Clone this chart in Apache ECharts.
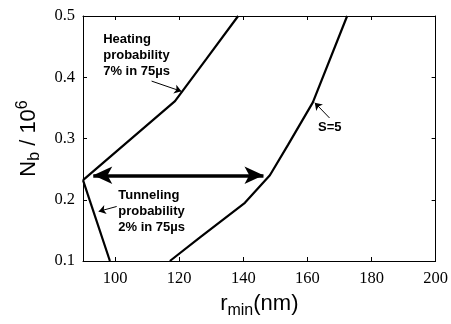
<!DOCTYPE html>
<html>
<head>
<meta charset="utf-8">
<script src="https://cdn.jsdelivr.net/npm/echarts@6/dist/echarts.min.js"></script>
<style>
  html, body { margin: 0; padding: 0; background: #fff; }
  #chart { width: 451px; height: 324px; }
</style>
</head>
<body>
<div id="chart"></div>
<script>
// Boundary curves in the (r_min, N_b) plane
const heatR = [90, 118.7, 128.5, 138.4];
const heatN = [0.232, 0.361, 0.430, 0.5];

const tunnelR = [90, 98.4];
const tunnelN = [0.232, 0.1];

const s5R = [117.1, 126.4, 140.5, 148.3, 154, 161.7, 172.4];
const s5N = [0.1, 0.138, 0.195, 0.24, 0.29, 0.359, 0.5];

// Operating window (double arrow) at constant N_b
const windowR = [93.2, 146.3];
const windowN = 0.24;

// Axis ticks
const xTicks = [100, 120, 140, 160, 180, 200];
const yTicks = [0.1, 0.2, 0.3, 0.4, 0.5];

// Annotation arrows: [tailR, tailN, headR, headN]
const heatArrow = [111.4, 0.3937, 120.7, 0.377];
const tunnelArrow = [100.5, 0.189, 94.9, 0.181];
const s5Arrow = [166.9, 0.3335, 162.3, 0.3585];

// Annotation texts and their anchors (top-left, data coords)
const heatText = ['Heating', 'probability', '7% in 75\u00b5s'];
const heatTextAt = [96.3, 0.475];
const tunnelText = ['Tunneling', 'probability', '2% in 75\u00b5s'];
const tunnelTextAt = [101.0, 0.2205];
const s5Text = ['S=5'];
const s5TextAt = [163.3, 0.331];

const pairs = (xs, ys) => xs.map((x, i) => [x, ys[i]]);

const chart = echarts.init(document.getElementById('chart'));

const black = '#000';
const tickFont = { fontFamily: 'Liberation Serif', fontSize: 16.5, color: black };

function arrowLine(a, size) {
  return [
    { coord: [a[0], a[1]], symbol: 'none' },
    { coord: [a[2], a[3]], symbol: 'arrow', symbolSize: size }
  ];
}

const option = {
  animation: false,
  grid: { left: 83, right: 15, top: 16, bottom: 51, show: false },
  xAxis: [
    {
      type: 'value', min: 90, max: 200, position: 'bottom',
      name: 'r{sub|min}(nm)', nameLocation: 'middle', nameGap: 28,
      nameTextStyle: {
        fontFamily: 'Liberation Sans', fontSize: 22, color: black,
        rich: { sub: { fontFamily: 'Liberation Sans', fontSize: 16, color: black, padding: [14, 0, 0, 0] } }
      },
      axisLine: { show: true, lineStyle: { color: black, width: 1 } },
      axisTick: { show: true, inside: true, length: 4, customValues: xTicks, lineStyle: { color: black } },
      axisLabel: { show: true, customValues: xTicks, margin: 9, ...tickFont },
      splitLine: { show: false }
    },
    {
      type: 'value', min: 90, max: 200, position: 'top',
      axisLine: { show: true, lineStyle: { color: black, width: 1 } },
      axisTick: { show: true, inside: true, length: 4, customValues: xTicks, lineStyle: { color: black } },
      axisLabel: { show: false },
      splitLine: { show: false }
    }
  ],
  yAxis: [
    {
      type: 'value', min: 0.1, max: 0.5, interval: 0.1, position: 'left',
      name: 'N{sub|b} / 10{sup|6}', nameLocation: 'middle', nameGap: 40, nameRotate: 90,
      nameTextStyle: {
        fontFamily: 'Liberation Sans', fontSize: 22, color: black,
        rich: {
          sub: { fontFamily: 'Liberation Sans', fontSize: 16, color: black, padding: [12, 0, 0, 0] },
          sup: { fontFamily: 'Liberation Sans', fontSize: 16, color: black, padding: [0, 0, 12, 0] }
        }
      },
      axisLine: { show: true, lineStyle: { color: black, width: 1 } },
      axisTick: { show: true, inside: true, length: 4, customValues: yTicks, lineStyle: { color: black } },
      axisLabel: { show: true, margin: 8, customValues: yTicks, formatter: v => v.toFixed(1), ...tickFont },
      splitLine: { show: false }
    },
    {
      type: 'value', min: 0.1, max: 0.5, interval: 0.1, position: 'right',
      axisLine: { show: true, lineStyle: { color: black, width: 1 } },
      axisTick: { show: true, inside: true, length: 4, customValues: yTicks, lineStyle: { color: black } },
      axisLabel: { show: false },
      splitLine: { show: false }
    }
  ],
  series: [
    {
      name: 'Heating', type: 'line', data: pairs(heatR, heatN),
      showSymbol: false, lineStyle: { color: black, width: 2.2 }, silent: true
    },
    {
      name: 'Tunneling', type: 'line', data: pairs(tunnelR, tunnelN),
      showSymbol: false, lineStyle: { color: black, width: 2.2 }, silent: true,
      markLine: {
        silent: true, animation: false,
        label: { show: false },
        lineStyle: { color: black, width: 1, type: 'solid' },
        data: [arrowLine(heatArrow, 7), arrowLine(tunnelArrow, 7), arrowLine(s5Arrow, 7)]
      }
    },
    {
      name: 'S=5', type: 'line', data: pairs(s5R, s5N),
      showSymbol: false, lineStyle: { color: black, width: 2.2 }, silent: true,
      markLine: {
        silent: true, animation: false,
        label: { show: false },
        lineStyle: { color: black, width: 3.5, type: 'solid' },
        data: [[
          { coord: [windowR[0], windowN], symbol: 'arrow', symbolSize: [13, 19] },
          { coord: [windowR[1], windowN], symbol: 'arrow', symbolSize: [13, 19] }
        ]]
      }
    }
  ]
};

chart.setOption(option);

// Place annotation texts through the chart's own scales
function textAt(lines, at) {
  const p = chart.convertToPixel({ xAxisIndex: 0, yAxisIndex: 0 }, at);
  return {
    type: 'text', x: p[0], y: p[1], silent: true,
    style: {
      text: lines.join('\n'),
      fontFamily: 'Liberation Sans', fontWeight: 'bold', fontSize: 13,
      lineHeight: 16, fill: black, align: 'left', verticalAlign: 'top'
    }
  };
}

chart.setOption({
  graphic: [
    textAt(heatText, heatTextAt),
    textAt(tunnelText, tunnelTextAt),
    textAt(s5Text, s5TextAt)
  ]
});
</script>
</body>
</html>
